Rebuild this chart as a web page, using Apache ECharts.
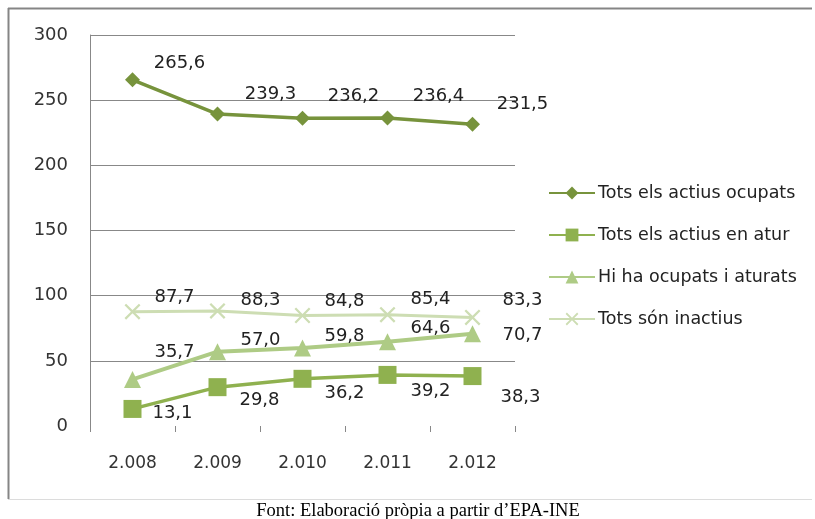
<!DOCTYPE html>
<html>
<head>
<meta charset="utf-8">
<script src="https://cdn.jsdelivr.net/npm/echarts@6/dist/echarts.min.js"></script>
<style>
  html, body { margin: 0; padding: 0; background: #fff; overflow: hidden; }
  #chart { width: 815px; height: 519px; }
</style>
</head>
<body>
<div id="chart"></div>
<script>
// dades
let years = ['2.008', '2.009', '2.010', '2.011', '2.012'];
let ocupats = [265.6, 239.3, 236.2, 236.4, 231.5];
let atur = [13.1, 29.8, 36.2, 39.2, 38.3];
let ocupatsAturats = [35.7, 57.0, 59.8, 64.6, 70.7];
let inactius = [87.7, 88.3, 84.8, 85.4, 83.3];
let seriesNames = ['Tots els actius ocupats', 'Tots els actius en atur', 'Hi ha ocupats i aturats', 'Tots són inactius'];

let font = 'DejaVu Sans';
let crossPath = 'path://M0,1L1,0L5,4L9,0L10,1L6,5L10,9L9,10L5,6L1,10L0,9L4,5Z';

function fmt(p) {
    return p.value.toFixed(1).replace('.', ',');
}

// posa l'etiqueta de cada punt (desplaçament per punt)
function withLabels(values, offsets) {
    return values.map(function (v, i) {
        return {
            value: v,
            label: {
                show: true,
                position: 'inside',
                offset: offsets[i],
                formatter: fmt,
                fontFamily: font,
                fontSize: 18,
                color: '#222'
            }
        };
    });
}

let myChart = echarts.init(document.getElementById('chart'));

let option = {
    animation: false,
    backgroundColor: '#fff',
    grid: {
        left: 90,
        top: 35,
        right: 300,
        bottom: 93
    },
    legend: {
        orient: 'vertical',
        left: 548,
        top: 184,
        padding: 0,
        itemWidth: 46,
        itemHeight: 16,
        itemGap: 24,
        textStyle: {
            fontFamily: font,
            fontSize: 17.5,
            color: '#222',
            padding: [0, 0, 0, -2]
        },
        data: seriesNames
    },
    xAxis: {
        type: 'category',
        data: years,
        boundaryGap: true,
        axisLine: { show: false },
        axisTick: { show: true, length: 6, lineStyle: { color: '#888' } },
        axisLabel: {
            margin: 29,
            fontFamily: font,
            fontSize: 17,
            color: '#333'
        }
    },
    yAxis: {
        type: 'value',
        min: 0,
        max: 300,
        interval: 50,
        axisLine: { show: true, lineStyle: { color: '#888' } },
        axisTick: { show: false },
        axisLabel: {
            margin: 22,
            fontFamily: font,
            fontSize: 18,
            color: '#333'
        },
        splitLine: {
            show: true,
            showMinLine: false,
            lineStyle: { color: '#888', width: 1 }
        }
    },
    graphic: [
        { type: 'line', shape: { x1: 8, y1: 8.5, x2: 812, y2: 8.5 }, style: { stroke: '#858585', lineWidth: 2 } },
        { type: 'line', shape: { x1: 8.5, y1: 8, x2: 8.5, y2: 499 }, style: { stroke: '#858585', lineWidth: 2 } },
        { type: 'line', shape: { x1: 90.5, y1: 426, x2: 90.5, y2: 432 }, style: { stroke: '#888', lineWidth: 1 } },
        { type: 'line', shape: { x1: 8, y1: 499.5, x2: 812, y2: 499.5 }, style: { stroke: '#dcdcdc', lineWidth: 1 } },
        {
            type: 'text',
            x: 418,
            y: 511,
            style: {
                text: 'Font: Elaboració pròpia a partir d\u2019EPA-INE',
                font: '18.5px "Liberation Serif"',
                fill: '#000',
                align: 'center',
                verticalAlign: 'middle'
            }
        }
    ],
    series: [
        {
            name: seriesNames[0],
            type: 'line',
            data: withLabels(ocupats, [[47, -17], [53, -20], [51, -22], [51, -22], [50, -20]]),
            symbol: 'diamond',
            symbolSize: 15,
            lineStyle: { color: '#77933C', width: 3.5 },
            itemStyle: { color: '#77933C' }
        },
        {
            name: seriesNames[1],
            type: 'line',
            data: withLabels(atur, [[40, 4], [42, 13], [42, 15], [43, 16], [48, 21]]),
            symbol: 'rect',
            symbolSize: 18,
            lineStyle: { color: '#8FB14F', width: 3.5 },
            itemStyle: { color: '#8FB14F' }
        },
        {
            name: seriesNames[2],
            type: 'line',
            data: withLabels(ocupatsAturats, [[42, -27], [43, -11], [42, -12], [43, -13], [50, 1]]),
            symbol: 'triangle',
            symbolSize: 17,
            lineStyle: { color: '#AECB85', width: 4 },
            itemStyle: { color: '#AECB85' }
        },
        {
            name: seriesNames[3],
            type: 'line',
            data: withLabels(inactius, [[42, -14], [43, -11], [42, -14], [43, -15], [50, -17]]),
            symbol: crossPath,
            symbolSize: 16,
            lineStyle: { color: '#CDDDB3', width: 3 },
            itemStyle: { color: '#CDDDB3' }
        }
    ]
};

myChart.setOption(option);
</script>
</body>
</html>
